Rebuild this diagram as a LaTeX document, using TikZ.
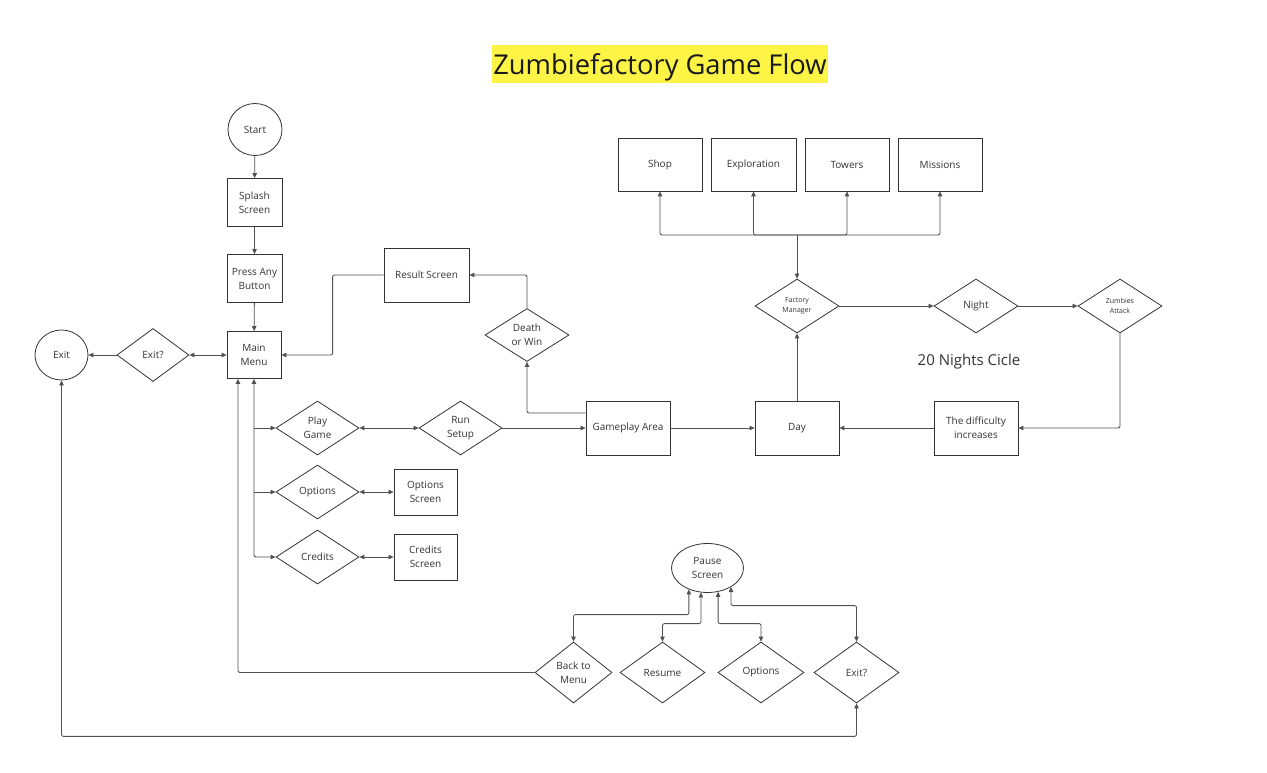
\documentclass[tikz,border=0pt]{standalone}
\usepackage{fontspec}
\setmainfont{Open Sans}
\usetikzlibrary{shapes.geometric,arrows.meta,calc}
\definecolor{ln}{HTML}{505050}
\definecolor{bd}{HTML}{333333}
\definecolor{tx}{HTML}{333333}
\definecolor{hl}{HTML}{FEF445}
\tikzset{
  base/.style={draw=bd,line width=0.8pt,text=tx,inner sep=0pt,align=center,
    font=\fontsize{10}{14}\selectfont},
  boxn/.style={base,rectangle},
  diam/.style={base,diamond},
  oval/.style={base,ellipse},
  small/.style={font=\fontsize{7}{10}\selectfont},
  conn/.style={draw=ln,line width=0.85pt,rounded corners=2pt},
  tip/.style={-{Triangle[length=5pt,width=4.5pt]}},
  tips/.style={{Triangle[length=5pt,width=4.5pt]}-{Triangle[length=5pt,width=4.5pt]}},
}
\begin{document}
\begin{tikzpicture}[x=1pt,y=-1pt]
\useasboundingbox (0,0) rectangle (1267,773);
% title
\node[fill=hl,inner sep=0pt,minimum width=336,minimum height=38] (titlebg) at (660,64) {};
\node[inner sep=0pt,anchor=base,font=\fontsize{27.3}{32}\selectfont,text=black!90] (title) at (660,74.5) {Zumbiefactory Game Flow};
% left column
\node[oval,minimum width=54,minimum height=52] (start) at (255,129.5) {Start};
\node[boxn,minimum width=55,minimum height=48] (splash) at (254.5,202.5) {Splash\\Screen};
\node[boxn,minimum width=55,minimum height=48] (press) at (254.5,278.5) {Press Any\\Button};
\node[boxn,minimum width=54,minimum height=47] (main) at (254,355) {Main\\Menu};
\node[diam,minimum width=72,minimum height=53] (exitq) at (153,355) {Exit?};
\node[oval,minimum width=53,minimum height=50] (exit) at (61.5,355) {Exit};
\node[boxn,minimum width=85,minimum height=54] (result) at (426.5,275) {Result Screen};
% menu options
\node[diam,minimum width=83,minimum height=54] (play) at (317.5,428) {Play\\Game};
\node[diam,minimum width=83,minimum height=54] (opts) at (317.5,492) {Options};
\node[diam,minimum width=83,minimum height=54] (cred) at (317.5,557) {Credits};
\node[diam,minimum width=83,minimum height=54] (setup) at (460.5,428) {Run\\Setup};
\node[boxn,minimum width=63,minimum height=46] (optscr) at (425.5,492) {Options\\Screen};
\node[boxn,minimum width=63,minimum height=46] (credscr) at (425.5,557) {Credits\\Screen};
% game
\node[boxn,minimum width=84,minimum height=54] (game) at (628,428) {Gameplay Area};
\node[diam,minimum width=84,minimum height=53] (death) at (527,335) {Death\\or Win};
\node[boxn,minimum width=84,minimum height=54] (day) at (797,428) {Day};
\node[diam,minimum width=84,minimum height=54,small] (fm) at (797,306) {Factory\\Manager};
\node[diam,minimum width=84,minimum height=54] (night) at (976,306) {Night};
\node[diam,minimum width=84,minimum height=54,small] (za) at (1120,306) {Zumbies\\Attack};
\node[boxn,minimum width=84,minimum height=54] (diff) at (976,428) {The difficulty\\increases};
\node[boxn,minimum width=84,minimum height=53] (shop) at (660,164.5) {Shop};
\node[boxn,minimum width=85,minimum height=53] (expl) at (753.5,164.5) {Exploration};
\node[boxn,minimum width=84,minimum height=53] (tow) at (847,164.5) {Towers};
\node[boxn,minimum width=84,minimum height=53] (mis) at (940,164.5) {Missions};
\node[text=tx,inner sep=0pt,font=\fontsize{15}{18}\selectfont] (cycle) at (969,362) {20 Nights Cicle};
% pause
\node[oval,minimum width=72,minimum height=49] (pause) at (707.5,568) {Pause\\Screen};
\node[diam,minimum width=77,minimum height=61] (btm) at (573.5,672.5) {Back to\\Menu};
\node[diam,minimum width=85,minimum height=61] (resume) at (662.5,672.5) {Resume};
\node[diam,minimum width=86,minimum height=61] (opts2) at (761,672.5) {Options};
\node[diam,minimum width=85,minimum height=61] (exit2) at (856.5,672.5) {Exit?};
\coordinate (junc) at (797,235);
% connectors
\draw[conn,tip] (start) -- (splash);
\draw[conn,tip] (splash) -- (press);
\draw[conn,tip] (press) -- (main);
\draw[conn,tip] (exitq.west) -- (exit.east);
\draw[conn,tips] (exitq.east) -- (main.west);
\draw[conn,tip] (result.west) -- ++(-51,0) |- (main.east);
\draw[conn,tips] (main.south) |- (cred.west);
\draw[conn,tip] (main.south |- play.west) -- (play.west);
\draw[conn,tip] (main.south |- opts.west) -- (opts.west);
\draw[conn,tips] (play.east) -- (setup.west);
\draw[conn,tips] (opts.east) -- (optscr.west);
\draw[conn,tips] (cred.east) -- (credscr.west);
\draw[conn,tip] (setup.east) -- (game.west);
\draw[conn,tip] ($(game.west)+(0,-15)$) -| (death.south);
\draw[conn,tip] (death.north) |- (result.east);
\draw[conn,tip] (game.east) -- (day.west);
\draw[conn,tip] (day.north) -- (fm.south);
\draw[conn,tip] (junc) -- (fm.north);
\draw[conn,tip] (junc) -| (shop.south);
\draw[conn,tip] (junc) -| (expl.south);
\draw[conn,tip] (junc) -| (tow.south);
\draw[conn,tip] (junc) -| (mis.south);
\draw[conn,tip] (fm.east) -- (night.west);
\draw[conn,tip] (night.east) -- (za.west);
\draw[conn,tip] (za.south) |- (diff.east);
\draw[conn,tip] (diff.west) -- (day.east);
\draw[conn,tips] (btm.north) -- ++(0,-27) -| (pause.229);
\draw[conn,tips] (resume.north) -- ++(0,-18) -| (pause.255);
\draw[conn,tips] (opts2.north) -- ++(0,-18) -| (pause.294);
\draw[conn,tips] (exit2.north) -- ++(0,-36) -| (pause.321);
\draw[conn,tip] (btm.west) -| ($(main.south)+(-16,0)$);
\draw[conn,tips] (exit.south) |- ($(exit2.south)+(0,33)$) -- (exit2.south);
\end{tikzpicture}
\end{document}
